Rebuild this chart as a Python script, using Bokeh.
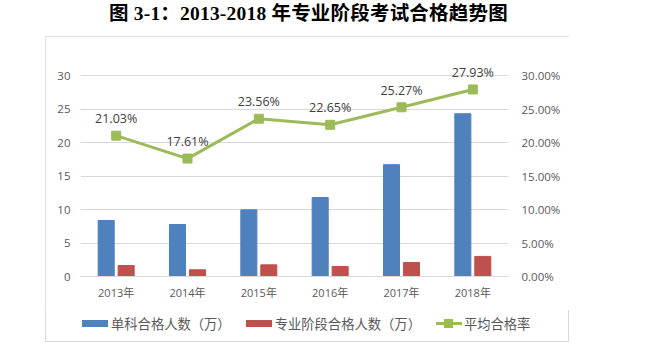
from bokeh.plotting import figure
from bokeh.layouts import column
from bokeh.models import (ColumnDataSource, Range1d, LinearAxis, FixedTicker, NumeralTickFormatter,
                          FactorRange, Div)
from bokeh.transform import dodge
from bokeh.core.properties import value
from bokeh.embed import file_html
from bokeh.resources import INLINE

# ---- data ----
years = ["2013年", "2014年", "2015年", "2016年", "2017年", "2018年"]
single_pass = [8.36, 7.76, 9.95, 11.8, 16.7, 24.3]        # 单科合格人数（万）
stage_pass = [1.64, 1.0, 1.74, 1.5, 2.09, 3.0]            # 专业阶段合格人数（万）
avg_rate = [0.2103, 0.1761, 0.2356, 0.2265, 0.2527, 0.2793]  # 平均合格率
rate_labels = ["21.03%", "17.61%", "23.56%", "22.65%", "25.27%", "27.93%"]
left_ticks = [0, 5, 10, 15, 20, 25, 30]
right_ticks = [0, 0.05, 0.10, 0.15, 0.20, 0.25, 0.30]

title_text = "图 3-1：2013-2018 年专业阶段考试合格趋势图"
legend_names = ["单科合格人数（万）", "专业阶段合格人数（万）", "平均合格率"]

src = ColumnDataSource(dict(year=years, single=single_pass, stage=stage_pass,
                            rate=avg_rate, label=rate_labels))

BLUE = "#4F81BD"
RED = "#C0504D"
GREEN = "#9BBB59"
GRID = "#D9D9D9"
TXT = "#595959"
FONT = "Open Sans"
CJK = "Noto Sans CJK SC"

title_div = Div(text=title_text, width=647, height=36, margin=0,
                styles={"font-family": f"'Liberation Serif', '{CJK}'", "font-size": "19.5px",
                        "font-weight": "bold", "color": "#000000", "padding-left": "109px",
                        "line-height": "28px", "white-space": "nowrap", "letter-spacing": "0.2px"})

p = figure(width=524, height=274, x_range=FactorRange(*years), y_range=Range1d(0, 33),
           output_backend="svg", toolbar_location=None,
           min_border_left=35, min_border_right=61, min_border_top=19, min_border_bottom=34)
p.extra_y_ranges = {"rate": Range1d(0, 0.33)}
p.outline_line_color = None
p.background_fill_color = "white"
p.border_fill_color = "white"

p.vbar(x=dodge("year", -0.14, range=p.x_range), top="single", width=0.225,
       source=src, fill_color=BLUE, line_color=BLUE)
p.vbar(x=dodge("year", 0.14, range=p.x_range), top="stage", width=0.225,
       source=src, fill_color=RED, line_color=RED)
p.line(x="year", y="rate", source=src, y_range_name="rate", line_color=GREEN, line_width=3)
p.scatter(x="year", y="rate", source=src, y_range_name="rate", marker="square",
          size=9, fill_color=GREEN, line_color=GREEN)
p.text(x="year", y="rate", text="label", source=src, y_range_name="rate", y_offset=-17,
       text_align="center", text_baseline="middle", text_font=value(FONT),
       text_font_size="12.5px", text_color="#404040")

# axes
for ax in (p.yaxis, p.xaxis):
    ax.major_tick_line_color = None
    ax.minor_tick_line_color = None
    ax.major_tick_out = 0
    ax.major_tick_in = 0
    ax.minor_tick_out = 0

p.yaxis.ticker = FixedTicker(ticks=left_ticks)
p.yaxis.axis_line_color = None
p.yaxis.major_label_standoff = 10
p.yaxis.major_label_text_font = FONT
p.yaxis.major_label_text_font_size = "11.5px"
p.yaxis.major_label_text_color = TXT

ra = LinearAxis(y_range_name="rate", ticker=FixedTicker(ticks=right_ticks),
                formatter=NumeralTickFormatter(format="0.00%"))
ra.axis_line_color = None
ra.major_tick_line_color = None
ra.minor_tick_line_color = None
ra.major_tick_out = 0
ra.major_tick_in = 0
ra.minor_tick_out = 0
ra.major_label_standoff = 13
ra.major_label_text_font = FONT
ra.major_label_text_font_size = "11.5px"
ra.major_label_text_color = TXT
p.add_layout(ra, "right")

p.xaxis.axis_line_color = GRID
p.xaxis.major_label_standoff = 8
p.xaxis.major_label_text_font = f"{FONT}, {CJK}"
p.xaxis.major_label_text_font_size = "11px"
p.xaxis.major_label_text_color = TXT

p.xgrid.grid_line_color = None
p.ygrid.grid_line_color = GRID
p.ygrid.ticker = FixedTicker(ticks=left_ticks)

# legend (keys + labels) below the plot, inside the bordered box
legend_colors = [BLUE, RED, GREEN]
key_bar = ('<span style="display:inline-block;width:26px;height:7px;background:{c};'
           'margin:0 3px 0 {ml}px"></span>')
key_line = ('<span style="position:relative;display:inline-block;width:26px;height:9px;'
            'margin:0 2px 0 {ml}px"><span style="position:absolute;left:0;top:3px;width:26px;'
            'height:3px;background:{c}"></span><span style="position:absolute;left:8.5px;top:0;'
            'width:9px;height:9px;background:{c}"></span></span>')
parts = []
for i, (name, c) in enumerate(zip(legend_names, legend_colors)):
    ml = 0 if i == 0 else 15
    tpl = key_line if i == 2 else key_bar
    parts.append(tpl.format(c=c, ml=ml) + f"<span>{name}</span>")
legend_html = (f'<div style="display:flex;align-items:center;height:26px;padding-left:37px;'
               f"font-family:'{CJK}';font-size:13.3px;color:{TXT};white-space:nowrap\">"
               + "".join(parts) + "</div>")
legend_div = Div(text=legend_html, width=524, height=32, margin=0)

box = column(p, legend_div, spacing=0)
box.margin = (0, 0, 0, 45)
box.styles = {"outline": "1px solid #D9D9D9", "outline-offset": "-1px"}

layout = column(title_div, box, spacing=0)
open("out.html", "w").write(file_html(layout, INLINE))
